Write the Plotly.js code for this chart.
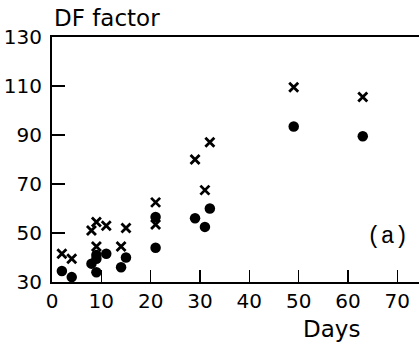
<!DOCTYPE html>
<html><head><meta charset="utf-8">
<script src="https://cdn.plot.ly/plotly-3.0.1.min.js"></script>
<style>html,body{margin:0;padding:0;background:#fff;}#chart{width:419px;height:346px;}</style>
</head><body><div id="chart"></div>
<script>
// Series: crosses
const crossDays = [2, 4, 8, 9, 11, 9, 14, 15, 21, 21, 29, 31, 32, 49, 63];
const crossDF   = [41.5, 39.5, 51, 54.5, 53, 44.5, 44.5, 52, 62.5, 53.5, 80, 67.5, 87, 109.5, 105.5];
// Series: filled circles
const dotDays = [2, 4, 8, 9, 9, 9, 11, 14, 15, 21, 21, 29, 31, 32, 49, 63];
const dotDF   = [34.5, 32, 37.5, 39.5, 34, 41, 41.5, 36, 40, 56.5, 44, 56, 52.5, 60, 93.5, 89.5];
const xTicks = [0, 10, 20, 30, 40, 50, 60, 70];
const yTicks = [30, 50, 70, 90, 110, 130];

const font = {family: 'DejaVu Sans', size: 20, color: '#000'};
const traces = [
  {x: crossDays, y: crossDF, type: 'scatter', mode: 'markers', cliponaxis: false,
   marker: {symbol: 'x-thin-open', size: 9, color: '#000', line: {width: 2.8, color: '#000'}}},
  {x: dotDays, y: dotDF, type: 'scatter', mode: 'markers', cliponaxis: false,
   marker: {symbol: 'circle', size: 10.5, color: '#000'}}
];
const layout = {
  width: 419, height: 346, showlegend: false,
  paper_bgcolor: '#fff', plot_bgcolor: '#fff',
  margin: {l: 52, r: 0, t: 37, b: 64},
  font: font,
  xaxis: {range: [0, 74.4], tickvals: xTicks, ticktext: xTicks.map(String),
    ticks: 'inside', ticklen: 12, tickwidth: 1.5, tickcolor: '#000',
    showgrid: false, zeroline: false, showline: true, linewidth: 2, linecolor: '#000',
    mirror: true, tickfont: font},
  yaxis: {range: [30, 130], tickvals: yTicks, ticktext: yTicks.map(String),
    ticks: 'inside', ticklen: 13, tickwidth: 1.5, tickcolor: '#000',
    showgrid: false, zeroline: false, showline: true, linewidth: 2, linecolor: '#000',
    tickfont: font, ticklabelstandoff: 4},
  annotations: [
    {text: 'DF factor', xref: 'paper', yref: 'paper', x: 0.0, y: 1.015, xanchor: 'left', yanchor: 'bottom',
     showarrow: false, font: {family: 'DejaVu Sans', size: 23, color: '#000'}},
    {text: 'Days', xref: 'paper', yref: 'paper', x: (331-52)/367, y: -0.13, xanchor: 'center', yanchor: 'top',
     showarrow: false, font: {family: 'DejaVu Sans', size: 23, color: '#000'}},
    {text: '(a)', xref: 'paper', yref: 'paper', x: (387-52)/367, y: (282-237)/245, xanchor: 'center', yanchor: 'middle',
     showarrow: false, font: {family: 'Liberation Mono', size: 23, color: '#000'}}
  ]
};
Plotly.newPlot('chart', traces, layout, {staticPlot: true, displayModeBar: false});
</script></body></html>
